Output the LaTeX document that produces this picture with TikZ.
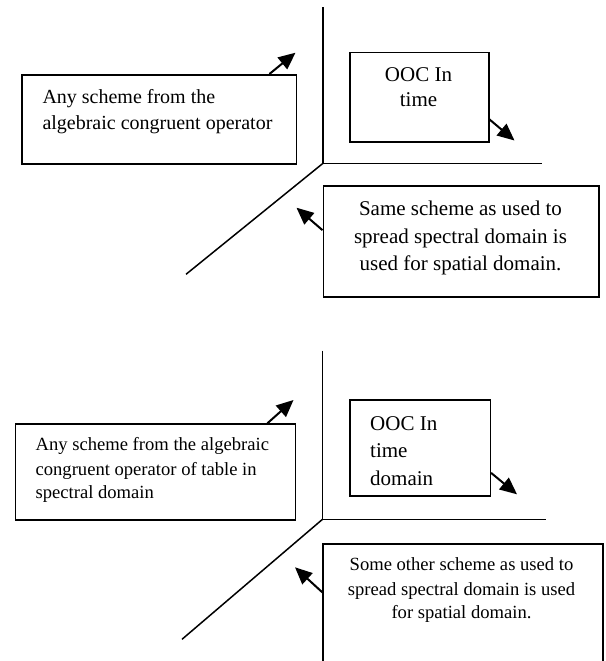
\documentclass[tikz,border=0pt]{standalone}
\usepackage{fontspec}
\setmainfont{Liberation Serif}
\usetikzlibrary{arrows.meta,calc}

\tikzset{
  box/.style={draw, line width=1.5pt, rectangle, inner sep=0pt, anchor=north west},
  axis/.style={line width=1.5pt},
  pointer/.style={line width=2pt, -{Triangle[length=17pt,width=15pt]}},
  txt/.style={inner sep=0pt, anchor=base},
  txtl/.style={inner sep=0pt, anchor=base west},
}

\begin{document}
\begin{tikzpicture}[x=1pt, y=-1pt]
\useasboundingbox (0,0) rectangle (605,661);

% ---------- upper diagram ----------
\coordinate (o1) at (323,163.3);
\coordinate (up1) at (323,7.3);
\coordinate (rt1) at (542,163.3);
\coordinate (dg1) at (186,274.3);
\draw[axis] (up1) -- (o1) -- (rt1);
\draw[axis] (o1) -- (dg1);

\node[box, minimum width=274.3pt, minimum height=89.3pt] (lbox1) at (21.2,74) {};
\node[box, minimum width=139pt, minimum height=89pt] (tbox1) at (349,52) {};
\node[box, minimum width=275.5pt, minimum height=110.7pt] (rbox1) at (322.5,185.3) {};

\begin{scope}[font=\fontsize{20}{27}\selectfont]
\node[txtl] (l1a) at (42.3,103) {Any scheme from the};
\node[txtl] (l1b) at (42.3,129.5) {algebraic congruent operator};
\end{scope}
\begin{scope}[font=\fontsize{21}{25}\selectfont]
\node[txt] (t1a) at (418.5,81.7) {OOC In};
\node[txt] (t1b) at (418.5,106.7) {time};
\node[txt] (r1a) at (460.5,215.5) {Same scheme as used to};
\node[txt] (r1b) at (460.5,243) {spread spectral domain is};
\node[txt] (r1c) at (460.5,270.5) {used for spatial domain.};
\end{scope}

\coordinate (p1) at (295.5,52.7);
\coordinate (p2) at (514.5,140.5);
\coordinate (p3) at (296.5,207.7);
\draw[pointer] ($(lbox1.north west)!0.9!(lbox1.north east)$) -- (p1);
\draw[pointer] ($(tbox1.north east)!0.745!(tbox1.south east)$) -- (p2);
\draw[pointer] ($(rbox1.north west)!0.4!(rbox1.south west)$) -- (p3);

% ---------- lower diagram ----------
\coordinate (o2) at (322.5,519.3);
\coordinate (up2) at (322.5,350.7);
\coordinate (rt2) at (546,519.3);
\coordinate (dg2) at (182,639.3);
\draw[axis] (up2) -- (o2) -- (rt2);
\draw[axis] (o2) -- (dg2);

\node[box, minimum width=280pt, minimum height=96pt] (lbox2) at (14.6,423.3) {};
\node[box, minimum width=140.6pt, minimum height=95.7pt] (tbox2) at (349,399.3) {};
\node[box, minimum width=279.6pt, minimum height=140pt] (rbox2) at (322.4,543.3) {};

\begin{scope}[font=\fontsize{18.6}{24}\selectfont]
\node[txtl] (l2a) at (35.4,450) {Any scheme from the algebraic};
\node[txtl] (l2b) at (35.4,475) {congruent operator of table in};
\node[txtl] (l2c) at (35.4,498.3) {spectral domain};
\node[txt] (r2a) at (461.5,570) {Some other scheme as used to};
\node[txt] (r2b) at (461.5,595) {spread spectral domain is used};
\node[txt] (r2c) at (461.5,618.3) {for spatial domain.};
\end{scope}
\begin{scope}[font=\fontsize{21}{27}\selectfont]
\clip (tbox2.north west) rectangle ($(tbox2.south east)+(0,-11.5)$);
\node[txtl] (t2a) at (370,430) {OOC In};
\node[txtl] (t2b) at (370,457.5) {time};
\node[txtl] (t2c) at (370,485) {domain};
\end{scope}

\coordinate (q1) at (293.5,400);
\coordinate (q2) at (517,494.3);
\coordinate (q3) at (295,567.3);
\draw[pointer] ($(lbox2.north west)!0.898!(lbox2.north east)$) -- (q1);
\draw[pointer] ($(tbox2.north east)!0.757!(tbox2.south east)$) -- (q2);
\draw[pointer] ($(rbox2.north west)!0.347!(rbox2.south west)$) -- (q3);
\end{tikzpicture}
\end{document}
